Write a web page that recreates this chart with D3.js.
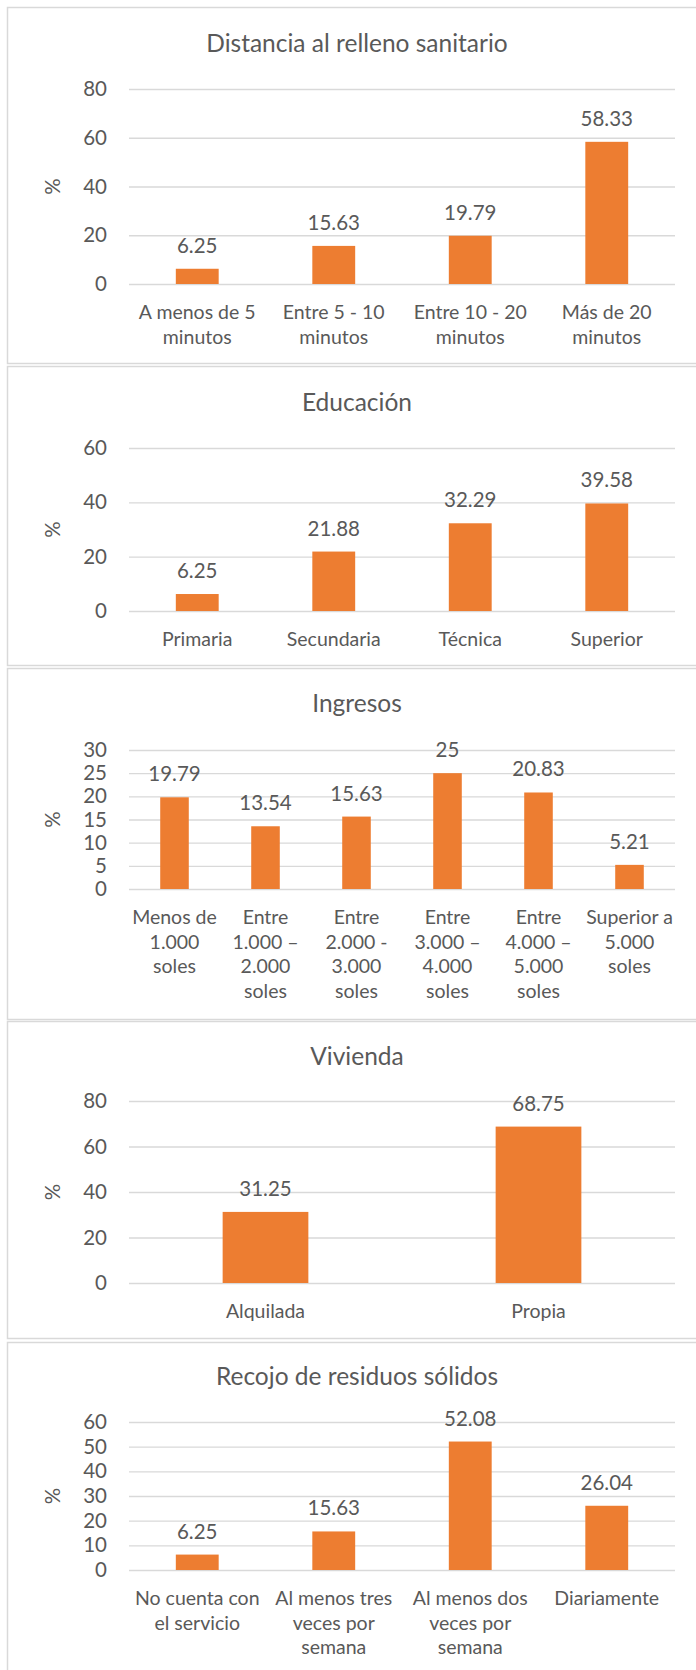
<!DOCTYPE html>
<html>
<head>
<meta charset="utf-8">
<script src="https://cdn.jsdelivr.net/npm/d3@7"></script>
<style>
  body { margin: 0; background: #fff; }
  svg text { font-family: Lato, "Open Sans", sans-serif; fill: #595959; }
</style>
</head>
<body>
<div id="chart"></div>
<script>
// --- data ---
const distanciaTitle = "Distancia al relleno sanitario";
const distanciaCategories = [["A menos de 5", "minutos"], ["Entre 5 - 10", "minutos"], ["Entre 10 - 20", "minutos"], ["Más de 20", "minutos"]];
const distanciaValues = [6.25, 15.63, 19.79, 58.33];
const distanciaTicks = [0, 20, 40, 60, 80];

const educacionTitle = "Educación";
const educacionCategories = [["Primaria"], ["Secundaria"], ["Técnica"], ["Superior"]];
const educacionValues = [6.25, 21.88, 32.29, 39.58];
const educacionTicks = [0, 20, 40, 60];

const ingresosTitle = "Ingresos";
const ingresosCategories = [
  ["Menos de", "1.000", "soles"],
  ["Entre", "1.000 –", "2.000", "soles"],
  ["Entre", "2.000 -", "3.000", "soles"],
  ["Entre", "3.000 –", "4.000", "soles"],
  ["Entre", "4.000 –", "5.000", "soles"],
  ["Superior a", "5.000", "soles"]
];
const ingresosValues = [19.79, 13.54, 15.63, 25, 20.83, 5.21];
const ingresosTicks = [0, 5, 10, 15, 20, 25, 30];

const viviendaTitle = "Vivienda";
const viviendaCategories = [["Alquilada"], ["Propia"]];
const viviendaValues = [31.25, 68.75];
const viviendaTicks = [0, 20, 40, 60, 80];

const recojoTitle = "Recojo de residuos sólidos";
const recojoCategories = [["No cuenta con", "el servicio"], ["Al menos tres", "veces por", "semana"], ["Al menos dos", "veces por", "semana"], ["Diariamente"]];
const recojoValues = [6.25, 15.63, 52.08, 26.04];
const recojoTicks = [0, 10, 20, 30, 40, 50, 60];

const yLabel = "%";

// --- layout per panel ---
const panels = [
  { title: distanciaTitle, cats: distanciaCategories, vals: distanciaValues, ticks: distanciaTicks, top: 7, bottom: 363, titleY: 43, plotTop: 89, plotBottom: 284 },
  { title: educacionTitle, cats: educacionCategories, vals: educacionValues, ticks: educacionTicks, top: 366, bottom: 665, titleY: 402, plotTop: 448, plotBottom: 611 },
  { title: ingresosTitle, cats: ingresosCategories, vals: ingresosValues, ticks: ingresosTicks, top: 668, bottom: 1019, titleY: 703, plotTop: 750, plotBottom: 889 },
  { title: viviendaTitle, cats: viviendaCategories, vals: viviendaValues, ticks: viviendaTicks, top: 1021, bottom: 1338, titleY: 1056, plotTop: 1101, plotBottom: 1283 },
  { title: recojoTitle, cats: recojoCategories, vals: recojoValues, ticks: recojoTicks, top: 1342, bottom: 1690, titleY: 1376, plotTop: 1422, plotBottom: 1570 }
];

const width = 696, height = 1670;
const plotLeft = 129, plotRight = 675;
const barColor = "#ED7D31";

const svg = d3.select("#chart").append("svg")
  .attr("width", width)
  .attr("height", height);

panels.forEach(p => {
  const g = svg.append("g");

  // panel frame
  g.append("rect")
    .attr("x", 7.5).attr("y", p.top + 0.5)
    .attr("width", 720).attr("height", p.bottom - p.top)
    .attr("fill", "#fff")
    .attr("stroke", "#d9d9d9").attr("stroke-width", 1.5);

  // title
  g.append("text")
    .attr("x", 357).attr("y", p.titleY)
    .attr("dy", "0.35em")
    .attr("text-anchor", "middle")
    .style("font-size", "24.5px")
    .text(p.title);

  const labels = p.cats.map(c => c.join(" "));
  const x = d3.scaleBand()
    .domain(labels)
    .range([plotLeft, plotRight])
    .paddingInner(0.686)
    .paddingOuter(0.343);
  // band centered in each category slot
  const slot = d3.scaleBand().domain(labels).range([plotLeft, plotRight]);

  const y = d3.scaleLinear()
    .domain([0, d3.max(p.ticks)])
    .range([p.plotBottom, p.plotTop]);

  // gridlines + tick labels
  const yAxis = g.append("g")
    .attr("transform", `translate(${plotLeft},0)`)
    .call(d3.axisLeft(y).tickValues(p.ticks).tickSize(-(plotRight - plotLeft)).tickPadding(22).tickFormat(d3.format("d")));
  yAxis.select(".domain").remove();
  yAxis.selectAll(".tick line").attr("stroke", "#d9d9d9").attr("stroke-width", 1.3);
  yAxis.selectAll(".tick text")
    .style("font-size", "20.5px")
    .style("font-family", "Lato, sans-serif")
    .attr("fill", "#595959");

  // y axis title
  g.append("text")
    .attr("transform", `translate(53,${(p.plotTop + p.plotBottom) / 2}) rotate(-90)`)
    .attr("dy", "0.35em")
    .attr("text-anchor", "middle")
    .style("font-size", "20.5px")
    .text(yLabel);

  // bars
  const bw = slot.bandwidth() * 0.314;
  g.selectAll("rect.bar")
    .data(p.vals)
    .join("rect")
    .attr("class", "bar")
    .attr("x", (d, i) => slot(labels[i]) + (slot.bandwidth() - bw) / 2)
    .attr("y", d => y(d))
    .attr("width", bw)
    .attr("height", d => y(0) - y(d))
    .attr("fill", barColor);

  // value labels
  g.selectAll("text.val")
    .data(p.vals)
    .join("text")
    .attr("class", "val")
    .attr("x", (d, i) => slot(labels[i]) + slot.bandwidth() / 2)
    .attr("y", d => y(d) - 16)
    .attr("text-anchor", "middle")
    .style("font-size", "20.5px")
    .text(d => String(d));

  // category labels (multi-line)
  const cat = g.selectAll("text.cat")
    .data(p.cats)
    .join("text")
    .attr("class", "cat")
    .attr("text-anchor", "middle")
    .style("font-size", "19.5px");
  cat.selectAll("tspan")
    .data((d, i) => d.map(line => ({ line, i })))
    .join("tspan")
    .attr("x", d => slot(labels[d.i]) + slot.bandwidth() / 2)
    .attr("y", (d, j) => p.plotBottom + 28 + j * 24.7)
    .attr("dy", "0.35em")
    .text(d => d.line);
});
</script>
</body>
</html>
